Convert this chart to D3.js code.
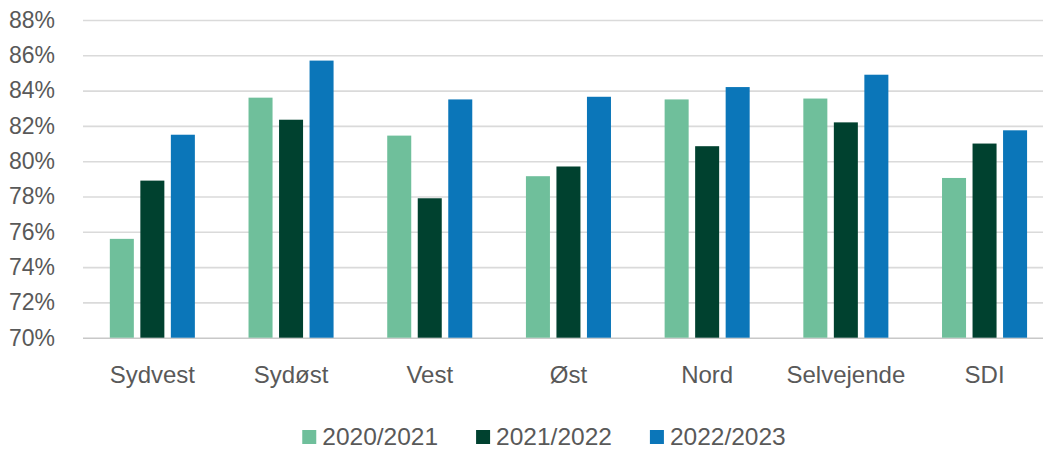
<!DOCTYPE html>
<html>
<head>
<meta charset="utf-8">
<script src="https://cdn.jsdelivr.net/npm/d3@7"></script>
<style>
  html, body { margin: 0; padding: 0; background: #ffffff; }
  svg { display: block; }
  text { font-family: "Liberation Sans", Arial, sans-serif; fill: #595959; }
</style>
</head>
<body>
<svg id="chart" width="1043" height="452"></svg>
<script>
const categories = ["Sydvest", "Sydøst", "Vest", "Øst", "Nord", "Selvejende", "SDI"];
const seriesNames = ["2020/2021", "2021/2022", "2022/2023"];
const values2020_2021 = [75.6, 83.6, 81.45, 79.15, 83.5, 83.55, 79.05];
const values2021_2022 = [78.9, 82.35, 77.9, 79.7, 80.85, 82.2, 81.0];
const values2022_2023 = [81.5, 85.7, 83.5, 83.65, 84.2, 84.9, 81.75];
const yTicks = [70, 72, 74, 76, 78, 80, 82, 84, 86, 88];
const colors = ["#6fbf9b", "#00412f", "#0b76b9"];

const seriesValues = [values2020_2021, values2021_2022, values2022_2023];

const svg = d3.select("#chart");
const W = 1043, H = 452;
const mLeft = 83, mBottom = 337.7, mTop = 20;

const y = d3.scaleLinear().domain([70, 88]).range([mBottom, mTop]);
const x0 = d3.scaleBand().domain(categories).range([mLeft, mLeft + 7 * 138.7])
  .paddingInner(0.34).paddingOuter(0.17);
const x1 = d3.scaleBand().domain(seriesNames).range([0, x0.bandwidth()])
  .paddingInner(0.213).paddingOuter(0.1065);

// gridlines
const yAxis = d3.axisLeft(y).tickValues(yTicks).tickSize(-(W - mLeft)).tickFormat(d => d + "%");
const gy = svg.append("g").attr("transform", `translate(${mLeft},0)`).call(yAxis);
gy.select(".domain").remove();
gy.selectAll(".tick line").attr("stroke", d => d === 70 ? "#c8c8c8" : "#dadada").attr("stroke-width", 1.6);
gy.selectAll(".tick text").attr("x", -28).attr("font-size", 23).attr("fill", "#595959")
  .attr("font-family", "Liberation Sans, Arial, sans-serif")
  .style("text-anchor", "end");

// bars
const groups = svg.append("g").selectAll("g").data(categories).join("g")
  .attr("transform", d => `translate(${x0(d)},0)`);
groups.selectAll("rect")
  .data((c, i) => seriesNames.map((s, j) => ({ s, j, v: seriesValues[j][i] })))
  .join("rect")
  .attr("x", d => x1(d.s))
  .attr("width", x1.bandwidth())
  .attr("y", d => y(d.v))
  .attr("height", d => y(70) - y(d.v))
  .attr("fill", d => colors[d.j]);

// x axis labels
const xAxis = d3.axisBottom(x0).tickSize(0).tickPadding(0);
const gx = svg.append("g").attr("transform", `translate(0,${mBottom})`).call(xAxis);
gx.select(".domain").remove();
gx.selectAll(".tick text").attr("y", 45).attr("dy", 0).attr("font-size", 24).attr("fill", "#595959")
  .attr("font-family", "Liberation Sans, Arial, sans-serif");

// legend
const legend = svg.append("g");
const items = legend.selectAll("g").data(seriesNames).join("g");
items.append("rect").attr("width", 14).attr("height", 14).attr("y", 430)
  .attr("fill", (d, i) => colors[i]);
items.append("text").attr("x", 20).attr("y", 445).attr("font-size", 24.5).text(d => d);
const widths = [];
items.each(function () {
  const w = 20 + d3.select(this).select("text").node().getComputedTextLength();
  widths.push(w);
});
const gap = 38;
const total = d3.sum(widths) + gap * (widths.length - 1);
let cx = 544 - total / 2;
items.each(function (d, i) {
  d3.select(this).attr("transform", `translate(${cx},0)`);
  cx += widths[i] + gap;
});
</script>
</body>
</html>
